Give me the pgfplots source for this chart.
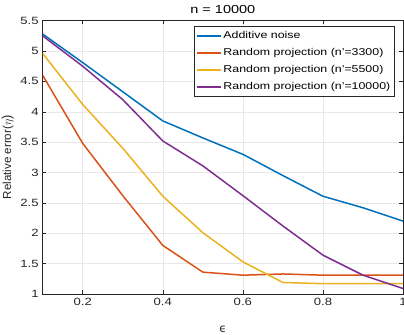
\documentclass[border=0pt]{standalone}
\usepackage{pgfplots}
\pgfplotsset{compat=1.18}
\usepackage{fontspec}
\setmainfont{Liberation Sans}[FakeStretch=1.25]
\newfontfamily\plainfont{Liberation Sans}
\newfontfamily\dejavu{DejaVu Sans}
\definecolor{mblue}{rgb}{0,0.447,0.741}
\definecolor{mred}{rgb}{0.85,0.325,0.098}
\definecolor{myellow}{rgb}{0.929,0.694,0.125}
\definecolor{mpurple}{rgb}{0.494,0.184,0.556}
\definecolor{axgray}{gray}{0.15}
\begin{document}
\begin{tikzpicture}[x=1bp,y=1bp]
\begin{axis}[
  name=ax,
  scale only axis,
  width=360.3bp, height=273.3bp,
  xmin=0.1, xmax=1, ymin=1, ymax=5.5,
  xtick={0.2,0.4,0.6,0.8,1},
  ytick={1,1.5,2,2.5,3,3.5,4,4.5,5,5.5},
  yticklabels={1,1.5,2,2.5,3,3.5,4,4.5,5,5.5},
  xticklabels={0.2,0.4,0.6,0.8,1},
  grid=major,
  grid style={color=black!9, line width=0.5pt},
  axis line style={color=axgray, line width=0.6pt},
  tick style={color=axgray, line width=0.6pt},
  major tick length=3.6bp,
  tick label style={font=\fontsize{10.5bp}{12bp}\selectfont, color=axgray},
  xticklabel style={yshift=-1bp},
  yticklabel style={xshift=-0.5bp},
  title={n = 10000},
  title style={font=\fontsize{11.6bp}{13bp}\selectfont, at={(axis description cs:0.5,1)}, anchor=center, yshift=5bp},
  xlabel={\dejavu ϵ},
  ylabel={\plainfont Relative error(\fontsize{13bp}{13bp}\selectfont$\eta$)},
  label style={font=\fontsize{11.6bp}{13bp}\selectfont, color=axgray},
  xlabel style={at={(axis description cs:0.5,0)}, anchor=center, yshift=-35bp},
  ylabel style={at={(axis description cs:0,0.5)}, anchor=center, yshift=35bp},
  legend style={at={(rel axis cs:0.975,0.982)}, anchor=north east,
    font=\fontsize{9.9bp}{11bp}\selectfont, draw=axgray,
    row sep=0bp, inner xsep=2bp, inner ysep=1.25bp,
    nodes={text height=7.5bp, text depth=2.5bp, inner ysep=3.5bp, inner xsep=1.5bp}},
  legend cell align=left,
  legend image code/.code={\draw[mark repeat=2,mark phase=2,#1,line width=2bp] plot coordinates {(0bp,0bp)(12bp,0bp)(24bp,0bp)};},
  every axis plot/.append style={line width=1.5bp},
]
\addplot[mblue] coordinates {(0.1,5.28)(0.2,4.81)(0.3,4.33)(0.4,3.85)(0.5,3.57)(0.6,3.30)(0.7,2.95)(0.8,2.61)(0.9,2.42)(1.0,2.20)};
\addlegendentry{Additive noise}
\addplot[mred] coordinates {(0.1,4.60)(0.2,3.48)(0.3,2.62)(0.4,1.80)(0.5,1.36)(0.6,1.31)(0.7,1.33)(0.8,1.31)(0.9,1.31)(1.0,1.31)};
\addlegendentry{Random projection (n'=3300)}
\addplot[myellow] coordinates {(0.1,4.96)(0.2,4.12)(0.3,3.40)(0.4,2.61)(0.5,2.01)(0.6,1.53)(0.7,1.19)(0.8,1.17)(0.9,1.17)(1.0,1.17)};
\addlegendentry{Random projection (n'=5500)}
\addplot[mpurple] coordinates {(0.1,5.25)(0.2,4.75)(0.3,4.20)(0.4,3.52)(0.5,3.11)(0.6,2.62)(0.7,2.12)(0.8,1.64)(0.9,1.31)(1.0,1.09)};
\addlegendentry{Random projection (n'=10000)}
\end{axis}
\pgfresetboundingbox
\path ([shift={(-42.7bp,-40bp)}]ax.south west) rectangle ([shift={(1bp,20.7bp)}]ax.north east);
\end{tikzpicture}
\end{document}
